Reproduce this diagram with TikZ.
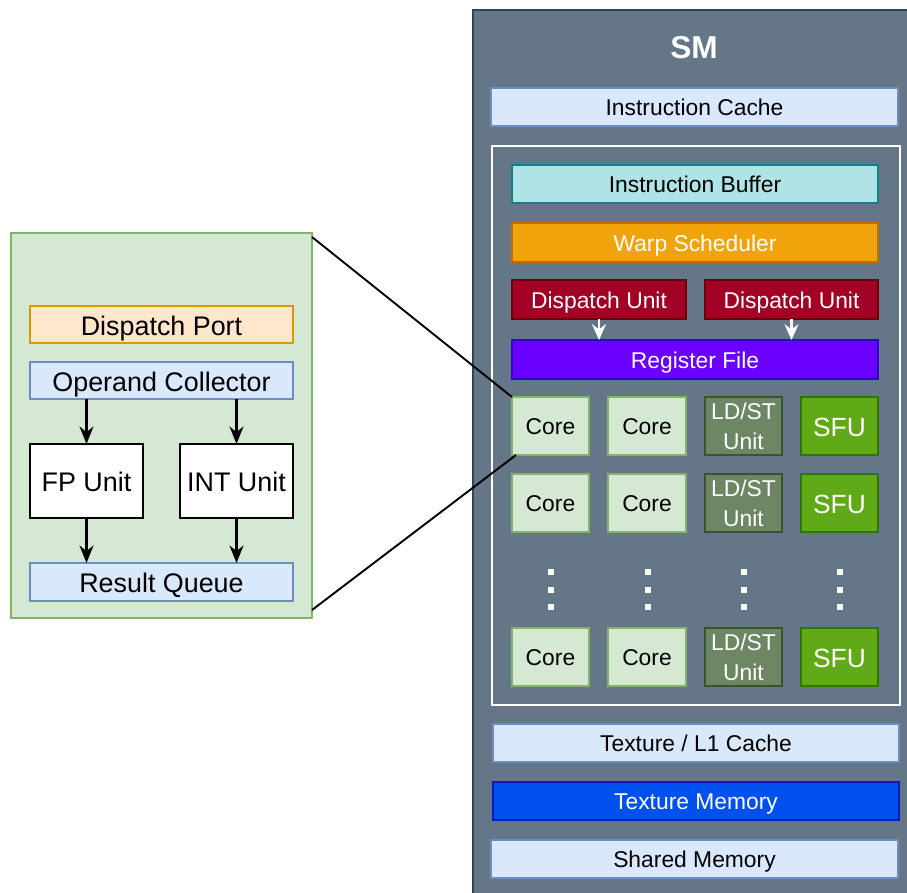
\documentclass[tikz,border=0pt]{standalone}
\usepackage{fontspec}
\setmainfont{Liberation Sans}
\usetikzlibrary{arrows.meta}
\definecolor{smfill}{HTML}{647687}
\definecolor{smdraw}{HTML}{314354}
\definecolor{bluef}{HTML}{DAE8FC}
\definecolor{blued}{HTML}{6C8EBF}
\definecolor{tealf}{HTML}{B0E3E6}
\definecolor{teald}{HTML}{0E8088}
\definecolor{orf}{HTML}{F0A30A}
\definecolor{ord}{HTML}{BD7000}
\definecolor{redf}{HTML}{A20025}
\definecolor{redd}{HTML}{6F0000}
\definecolor{vif}{HTML}{6A00FF}
\definecolor{vid}{HTML}{3700CC}
\definecolor{grf}{HTML}{D5E8D4}
\definecolor{grd}{HTML}{82B366}
\definecolor{olf}{HTML}{6D8764}
\definecolor{old}{HTML}{3A5431}
\definecolor{sff}{HTML}{60A917}
\definecolor{sfd}{HTML}{2D7600}
\definecolor{tmf}{HTML}{0050EF}
\definecolor{tmd}{HTML}{001DBC}
\definecolor{pef}{HTML}{FFE6CC}
\definecolor{ped}{HTML}{D79B00}
\newcommand\bx[7]{\node[#6, minimum width={(#4-#2)*0.02cm}, minimum height={(#5-#3)*0.02cm}] (#1) at ({(#2+#4)/2},{(#3+#5)/2}) {#7};}
\newcommand\ldsttext{\raisebox{-1.2pt}{\parbox{1.3cm}{\centering LD/ST\\Unit}}}
\begin{document}
\begin{tikzpicture}[x=0.02cm,y=-0.02cm,
  base/.style={draw, line width=1.1pt, inner sep=0pt, outer sep=0pt, align=center, text height=10pt, text depth=0pt, font=\fontsize{13}{15}\selectfont},
  lblue/.style={base, fill=bluef, draw=blued},
  ibuf/.style={base, fill=tealf, draw=teald},
  warp/.style={base, fill=orf, draw=ord, text=white},
  disp/.style={base, fill=redf, draw=redd, text=white},
  regf/.style={base, fill=vif, draw=vid, text=white},
  core/.style={base, fill=grf, draw=grd},
  ldst/.style={base, fill=olf, draw=old, text=white, text height=, text depth=, font=\fontsize{13}{17}\selectfont},
  sfu/.style={base, fill=sff, draw=sfd, text=white, text height=11.8pt, font=\fontsize{15}{18}\selectfont},
  texm/.style={base, fill=tmf, draw=tmd, text=white},
  panel/.style={base, fill=grf, draw=grd},
  pbig/.style={base, text height=12pt, font=\fontsize{15.3}{18}\selectfont},
  port/.style={pbig, fill=pef, draw=ped},
  opc/.style={pbig, fill=bluef, draw=blued},
  unit/.style={pbig, fill=white, draw=black},
  blk/.style={-{Stealth[length=10pt,width=8pt]}, line width=1.2pt, black},
  wht/.style={-{Stealth[length=9pt,width=8pt]}, line width=1.6pt, white},
  dot/.style={fill=white},
]
\useasboundingbox (0,0) rectangle (907,893);
% SM container
\bx{sm}{473}{10}{915}{900}{base, fill=smfill, draw=smdraw}{}
\node[text=white, font=\fontsize{18}{20}\selectfont\bfseries] (smt) at (694,48) {SM};
\bx{icache}{491}{88}{898}{126}{lblue}{Instruction Cache}
\bx{inner}{492}{146}{900}{705}{base, draw=white, line width=1.3pt}{}
\bx{ibuf}{512}{165}{878}{203}{ibuf}{Instruction Buffer}
\bx{warp}{512}{223}{878}{262}{warp}{Warp Scheduler}
\bx{d1}{512}{280}{686}{319}{disp}{Dispatch Unit}
\bx{d2}{705}{280}{878}{319}{disp}{Dispatch Unit}
\bx{reg}{512}{340}{878}{379}{regf}{Register File}
\draw[wht] (d1.south) -- (reg.north -| d1.south);
\draw[wht] (d2.south) -- (reg.north -| d2.south);
% rows
\bx{c11}{512}{397}{589}{455}{core}{Core}
\bx{c12}{608}{397}{686}{455}{core}{Core}
\bx{l1}{705}{397}{782}{455}{ldst}{\ldsttext}
\bx{s1}{801}{397}{878}{455}{sfu}{SFU}
\bx{c21}{512}{474}{589}{532}{core}{Core}
\bx{c22}{608}{474}{686}{532}{core}{Core}
\bx{l2}{705}{474}{782}{532}{ldst}{\ldsttext}
\bx{s2}{801}{474}{878}{532}{sfu}{SFU}
\bx{c31}{512}{628}{589}{686}{core}{Core}
\bx{c32}{608}{628}{686}{686}{core}{Core}
\bx{l3}{705}{628}{782}{686}{ldst}{\ldsttext}
\bx{s3}{801}{628}{878}{686}{sfu}{SFU}
\foreach \cx in {551,648,744,840}{
  \foreach \cy in {572,590,607}{
    \fill[dot] (\cx-3,\cy-3) rectangle (\cx+3,\cy+3);
  }
}
\bx{tl1}{493}{724}{899}{762}{lblue}{Texture / L1 Cache}
\bx{tmem}{493}{782}{899}{820}{texm}{Texture Memory}
\bx{smem}{491}{840}{898}{878}{lblue}{Shared Memory}
% zoom panel
\bx{zoom}{11}{233}{312}{618}{panel}{}
\bx{port}{30}{306}{293}{343}{port}{Dispatch Port}
\bx{opc}{30}{362}{293}{399}{opc}{Operand Collector}
\bx{fp}{30}{444}{143}{518}{unit}{FP Unit}
\bx{int}{180}{444}{293}{518}{unit}{INT Unit}
\bx{rq}{30}{563}{293}{601}{opc}{Result Queue}
\draw[blk] (opc.south -| fp.north) -- (fp.north);
\draw[blk] (opc.south -| int.north) -- (int.north);
\draw[blk] (fp.south) -- (rq.north -| fp.south);
\draw[blk] (int.south) -- (rq.north -| int.south);
% connectors
\draw[line width=1.1pt, black] ([yshift=-0.08cm]zoom.north east) -- (c11.north west);
\draw[line width=1.1pt, black] ([yshift=0.16cm]zoom.south east) -- ([xshift=0.08cm]c11.south west);
\end{tikzpicture}
\end{document}
